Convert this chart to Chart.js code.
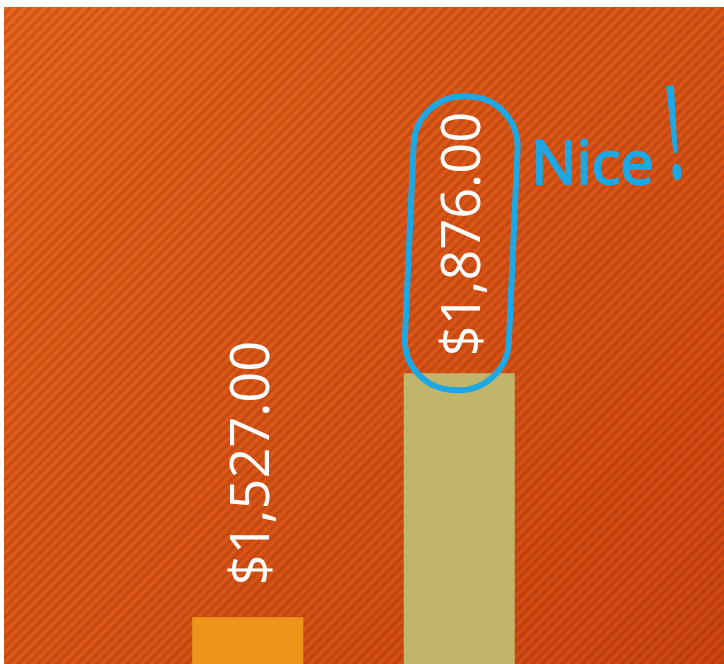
<!DOCTYPE html>
<html>
<head>
<meta charset="utf-8">
<script src="https://cdn.jsdelivr.net/npm/chart.js@4.4.0/dist/chart.umd.min.js"></script>
<style>
    html, body { margin: 0; padding: 0; background: #fff; }
    #wrap {
        position: absolute;
        left: 4px;
        top: 7px;
        width: 720px;
        height: 657px;
        background:
            repeating-linear-gradient(135deg, rgba(0,0,0,0) 0 3.5px, rgba(110,25,0,0.19) 3.5px 7px),
            linear-gradient(135deg, #e8661d, #cd4610);
    }
</style>
</head>
<body>
<div id="wrap"><canvas id="amountChart"></canvas></div>
<script>
// chart data
const categories = ["Category 1", "Category 2"];
const amounts = [1527, 1876];
const barColors = ["#ef941a", "#c1b46b"];
const yMin = 1460;
const yMax = 2400;

const money = new Intl.NumberFormat("en-US", { style: "currency", currency: "USD" });

// rotated value labels above each bar
const labelGaps = [32, 17];
const valueLabels = {
    id: "valueLabels",
    afterDatasetsDraw(chart) {
        const ctx = chart.ctx;
        const meta = chart.getDatasetMeta(0);
        meta.data.forEach((bar, i) => {
            ctx.save();
            ctx.translate(bar.x + 21, bar.y - labelGaps[i]);
            ctx.rotate(-Math.PI / 2);
            ctx.font = "54px 'Open Sans'";
            ctx.fillStyle = "#ffffff";
            ctx.textAlign = "left";
            ctx.textBaseline = "alphabetic";
            ctx.fillText(money.format(amounts[i]), 0, 0);
            ctx.restore();
        });
    },
};

// hand drawn note around the second label
const scribble = {
    id: "scribble",
    afterDraw(chart) {
        const ctx = chart.ctx;
        const bar = chart.getDatasetMeta(0).data[1];
        if (!bar) return;
        const blue = "#1ca8e4";

        ctx.save();
        ctx.translate(bar.x + 2, bar.y - 130);
        ctx.rotate(0.045);
        ctx.strokeStyle = blue;
        ctx.lineWidth = 6;
        ctx.beginPath();
        ctx.roundRect(-52, -147, 104, 294, 50);
        ctx.stroke();
        ctx.restore();

        ctx.save();
        ctx.fillStyle = blue;
        ctx.strokeStyle = blue;
        ctx.lineWidth = 2;
        ctx.lineJoin = "round";
        ctx.font = "60px 'Open Sans'";
        ctx.textBaseline = "alphabetic";
        ctx.fillText("Nice", bar.x + 72, bar.y - 189);
        ctx.strokeText("Nice", bar.x + 72, bar.y - 189);
        ctx.translate(bar.x + 208, bar.y - 194);
        ctx.rotate(-0.08);
        ctx.scale(0.6, 1);
        ctx.font = "130px 'Open Sans'";
        ctx.fillText("!", 0, 0);
        ctx.restore();
    },
};

const ctx = document.getElementById("amountChart").getContext("2d");

new Chart(ctx, {
    type: "bar",
    data: {
        labels: categories,
        datasets: [
            {
                label: "Amount",
                data: amounts,
                backgroundColor: barColors,
                borderWidth: 0,
                barPercentage: 1,
                categoryPercentage: 0.525,
            },
        ],
    },
    options: {
        responsive: true,
        maintainAspectRatio: false,
        animation: false,
        layout: {
            padding: { left: 138, right: 159, top: 0, bottom: 0 },
        },
        scales: {
            x: { display: false },
            y: { display: false, min: yMin, max: yMax },
        },
        plugins: {
            legend: { display: false },
            tooltip: { enabled: false },
        },
    },
    plugins: [valueLabels, scribble],
});
</script>
</body>
</html>
